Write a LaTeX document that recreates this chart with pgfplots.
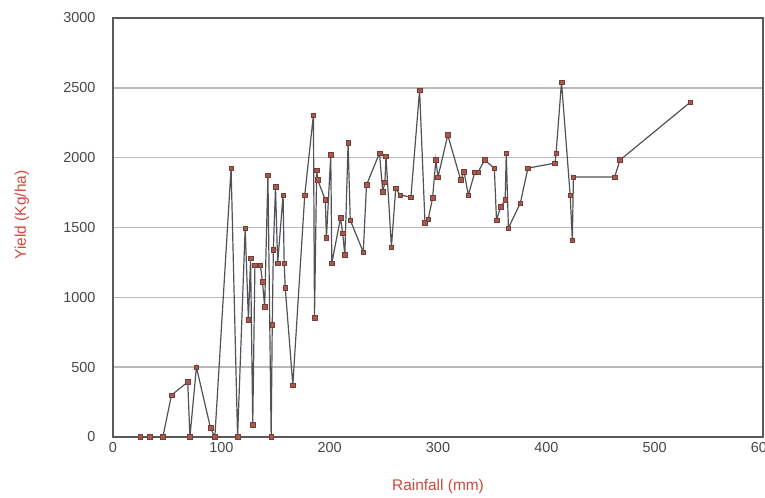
\documentclass[border=0pt]{standalone}
\usepackage{pgfplots}
\pgfplotsset{compat=1.18}
\usepackage{fontspec}
\setmainfont{Liberation Sans}
\definecolor{lbl}{HTML}{D0483A}
\definecolor{mk}{HTML}{A8584E}
\definecolor{ln}{HTML}{505258}
\begin{document}
\begin{tikzpicture}[x=1bp,y=1bp]
\begin{axis}[
  scale only axis,
  width=650bp, height=419bp,
  xmin=0, xmax=600, ymin=0, ymax=3000,
  xtick={0,100,...,600}, ytick={0,500,...,3000},
  ymajorgrids, major grid style={draw=gray!55, line width=1.6pt},
  axis line style={draw=gray!70!black, line width=1.2pt},
  tick style={draw=none},
  /pgf/number format/assume math mode=true,
  /pgf/number format/1000 sep={},
  ticklabel style={font=\fontsize{14.5}{14.5}\selectfont, text=black!72},
  xticklabel style={yshift=-2bp},
  yticklabel style={xshift=-14bp},
  xlabel={Rainfall (mm)}, ylabel={Yield (Kg/ha)},
  label style={font=\fontsize{15.5}{15.5}\selectfont, text=lbl},
  xlabel style={at={(axis description cs:0.5,-0.119)}, anchor=center},
  ylabel style={at={(axis description cs:-0.140,0.53)}, anchor=center},
]
\addplot[color=ln, line width=1.2pt, mark=square*, mark size=2.3bp,
  mark options={fill=mk, draw=mk!70!black, line width=0.5pt}] coordinates {
(25,0) (34,0) (46,0) (54,300) (69,394) (71,0) (77,500) (90,65) (94,0)
(109,1925) (115,0) (122,1496) (125,838) (127,1281) (129,86) (131,1231)
(136,1231) (138,1110) (140,931) (143,1875) (146,0) (147,802) (148,1339)
(150,1790) (152,1245) (157,1732) (158,1245) (159,1067) (166,372) (177,1732)
(185,2305) (186,852) (188,1911) (189,1840) (196,1697) (197,1425) (201,2019)
(202,1245) (210,1568) (212,1460) (214,1303) (217,2105) (219,1553) (231,1324)
(234,1804) (246,2033) (249,1754) (251,1825) (252,2010) (257,1360) (261,1782)
(265,1732) (275,1718) (283,2484) (288,1532) (291,1560) (295,1711) (298,1983)
(300,1861) (309,2162) (321,1840) (324,1900) (328,1732) (334,1897) (337,1897)
(343,1983) (352,1925) (354,1553) (358,1650) (362,1697) (363,2033) (365,1496)
(376,1675) (383,1925) (408,1961) (409,2033) (414,2541) (422,1732) (424,1410)
(425,1861) (463,1861) (468,1983) (533,2398)
};
\end{axis}
\pgfresetboundingbox
\path[use as bounding box] (current axis.south west) ++(-113bp,-60bp) rectangle ([shift={(2bp,18bp)}]current axis.north east);
\end{tikzpicture}
\end{document}
